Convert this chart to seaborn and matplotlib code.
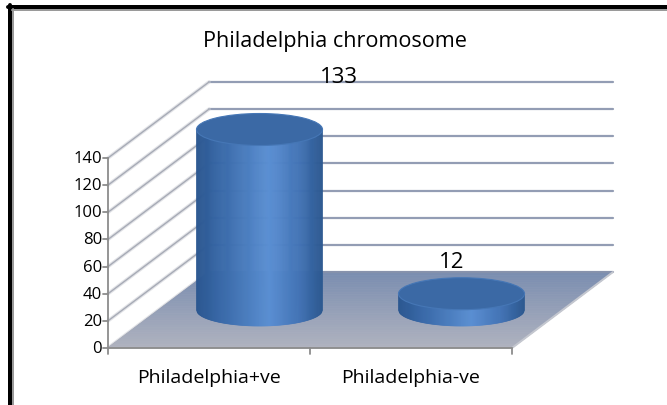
import numpy as np
import pandas as pd
import matplotlib
matplotlib.use('Agg')
import matplotlib.pyplot as plt
import seaborn as sns
from matplotlib.patches import Polygon, Ellipse
from matplotlib.lines import Line2D
from matplotlib.transforms import IdentityTransform
from matplotlib.colors import LinearSegmentedColormap, to_rgb

# ---- data ----
categories = ['Philadelphia+ve', 'Philadelphia-ve']
counts = [133, 12]
y_ticks = [0, 20, 40, 60, 80, 100, 120, 140]
title = 'Philadelphia chromosome'

# ---- style / layout constants ----
W, H, DPI = 667, 406, 100
DX, DY = 101, 76          # depth offset of the back wall (pixels)
ELL_B = 16                # half height of cylinder ellipses (pixels)
LABEL_OFFSETS = [(79, 53), (-10, 32)]  # data-label offsets from cylinder top (px)

sns.set_theme(style='white')
plt.rcParams['font.family'] = ['Open Sans', 'DejaVu Sans']

fig = plt.figure(figsize=(W / DPI, H / DPI), dpi=DPI)
fig.patch.set_facecolor('white')
ax = fig.add_axes([108 / W, (H - 349) / H, 404 / W, 190 / H])

df = pd.DataFrame({'cat': categories, 'n': counts})
sns.barplot(data=df, x='cat', y='n', width=0.624, ax=ax)
bars = list(ax.patches)
ax.set_xlim(-0.5, len(categories) - 0.5)
ax.set_ylim(0, y_ticks[-1])
ax.axis('off')
fig.canvas.draw()

ID = IdentityTransform()
x_lo, x_hi = ax.get_xlim()


def P(x, y, t):
    px, py = ax.transData.transform((x, y))
    return (px + DX * t, py + DY * t)


def line(p0, p1, **kw):
    ax.add_line(Line2D([p0[0], p1[0]], [p0[1], p1[1]], transform=ID,
                       clip_on=False, **kw))


# back wall gridlines
for v in y_ticks:
    line(P(x_lo, v, 1), P(x_hi, v, 1), color='#939db4', lw=1.6, zorder=1)
# left wall lines (fuzzy)
for v in y_ticks:
    line(P(x_lo, v, 0), P(x_lo, v, 1), color='#cfd1d7', lw=2.6, alpha=0.6, zorder=1)
    line(P(x_lo, v, 0), P(x_lo, v, 1), color='#a7abb6', lw=1.0, zorder=1.1)

# floor with gradient (front light gray -> back blue gray)
front_c = np.array(to_rgb('#b0b3bf'))
back_c = np.array(to_rgb('#7a8db0'))
NB = 60
for k in range(NB):
    t0, t1 = k / NB, (k + 1) / NB
    c = front_c + (back_c - front_c) * (k + 0.5) / NB
    poly = [P(x_lo, 0, t0), P(x_hi, 0, t0), P(x_hi, 0, t1), P(x_lo, 0, t1)]
    ax.add_patch(Polygon(poly, closed=True, transform=ID, facecolor=c,
                         edgecolor=c, lw=0.6, clip_on=False, zorder=2))
line(P(x_lo, 0, 1), P(x_hi, 0, 1), color='#8792ab', lw=1.2, zorder=2.5)
line(P(x_hi, 0, 0), P(x_hi, 0, 1), color='#c4c7cf', lw=1.4, zorder=2.5)

# cylinders built from seaborn's bars
body_cmap = LinearSegmentedColormap.from_list(
    'cyl', [(0.0, '#2a568f'), (0.18, '#3767a6'), (0.58, '#5a8fd3'),
            (0.82, '#4273b5'), (1.0, '#2b5890')])
for i, p in enumerate(bars):
    x0, w, h = p.get_x(), p.get_width(), p.get_height()
    p.set_visible(False)
    L = P(x0, 0, 0.5)[0]
    R = P(x0 + w, 0, 0.5)[0]
    cx = (L + R) / 2
    a = (R - L) / 2
    yb = P(x0, 0, 0.5)[1]
    yt = P(x0, h, 0.5)[1]
    N = 120
    xs = np.linspace(L, R, N + 1)

    def ybot(x):
        u = np.clip((x - cx) / a, -1, 1)
        return yb - ELL_B * np.sqrt(1 - u * u)

    for j in range(N):
        xa, xb = xs[j], xs[j + 1]
        c = body_cmap((j + 0.5) / N)
        poly = [(xa, yt), (xb, yt), (xb, ybot(xb)), (xa, ybot(xa))]
        ax.add_patch(Polygon(poly, closed=True, transform=ID, facecolor=c,
                             edgecolor=c, lw=0.5, clip_on=False, zorder=3))
    ax.add_patch(Ellipse((cx, yt), 2 * a, 2 * ELL_B, transform=ID,
                         facecolor='#3b69a5', edgecolor='#4677b6', lw=0.8,
                         clip_on=False, zorder=4))
    # data label
    ox, oy = LABEL_OFFSETS[i]
    ax.text(cx + ox, yt + oy, f'{h:g}', transform=ID, ha='center', va='center',
            fontsize=16, color='black', zorder=6)

# axes lines and ticks
axis_c = '#8c8c8c'
line(P(x_lo, 0, 0), P(x_lo, y_ticks[-1], 0), color=axis_c, lw=1.3, zorder=5)
for v in y_ticks:
    px, py = P(x_lo, v, 0)
    line((px - 5, py), (px, py), color=axis_c, lw=1.3, zorder=5)
    ax.text(px - 6, py, f'{v}', transform=ID, ha='right', va='center',
            fontsize=12, color='black')
line(P(x_lo, 0, 0), P(x_hi, 0, 0), color=axis_c, lw=1.3, zorder=5)
for b in np.arange(x_lo, x_hi + 0.01, 1.0):
    px, py = P(b, 0, 0)
    line((px, py), (px, py - 6), color=axis_c, lw=1.3, zorder=5)
for i, cat in enumerate(categories):
    px, py = P(i, 0, 0)
    ax.text(px, py - 29, cat, transform=ID, ha='center', va='center',
            fontsize=14, color='black')

# title
fig.text(335 / W, 1 - 42 / H, title, ha='center', va='center', fontsize=15.6,
         color='black')

# frame (top and left only, as in reference)
fig.add_artist(Line2D([8 / W, 1], [1 - 8 / H, 1 - 8 / H], transform=fig.transFigure,
                      color='black', lw=4 * 0.72))
fig.add_artist(Line2D([10 / W, 10 / W], [1 - 6 / H, 0], transform=fig.transFigure,
                      color='black', lw=4 * 0.72))
fig.add_artist(Line2D([12 / W, 1], [1 - 11 / H, 1 - 11 / H], transform=fig.transFigure,
                      color='#9a9a9a', lw=2 * 0.72))
fig.add_artist(Line2D([13.5 / W, 13.5 / W], [1 - 10 / H, 0], transform=fig.transFigure,
                      color='#9a9a9a', lw=2 * 0.72))

fig.savefig('out.png', dpi=DPI)
